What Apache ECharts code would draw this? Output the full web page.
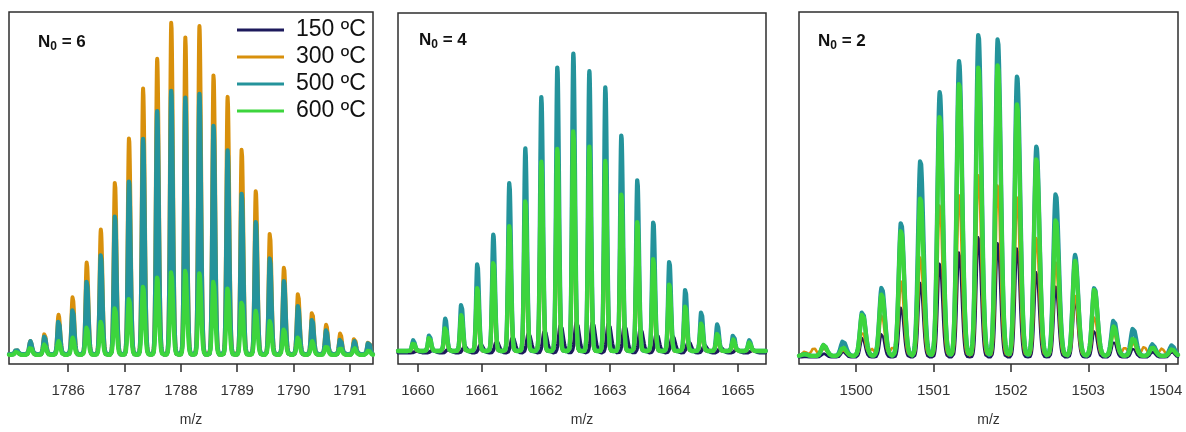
<!DOCTYPE html>
<html>
<head>
<meta charset="utf-8">
<title>Isotope envelopes vs. temperature</title>
<script src="https://cdn.jsdelivr.net/npm/echarts@6/dist/echarts.min.js"></script>
<style>
  html, body { margin: 0; padding: 0; background: #fff; }
  #chart { width: 1186px; height: 432px; }
</style>
</head>
<body>
<div id="chart"></div>
<script>
// ---- Legend / series names -------------------------------------------------
const seriesNames = ['150 ºC', '300 ºC', '500 ºC', '600 ºC'];

// ---- Panel 1: N0 = 6 ------------------------------------------------------
const p1Mz = [1785.08, 1785.33, 1785.58, 1785.83, 1786.08, 1786.33, 1786.58, 1786.83,
  1787.08, 1787.33, 1787.58, 1787.83, 1788.08, 1788.33, 1788.58, 1788.83, 1789.08,
  1789.33, 1789.58, 1789.83, 1790.08, 1790.33, 1790.58, 1790.83, 1791.08, 1791.33];
const p1T150 = [3.9, 6.0, 7.2, 11.5, 14.3, 21.7, 28.4, 38.1, 46.9, 57.7, 64.7, 70.1, 68.2,
  69.1, 61.1, 54.7, 43.9, 36.4, 27.4, 21.4, 15.2, 11.8, 8.9, 6.8, 5.9, 5.9];
const p1T300 = [4.2, 6.5, 8.6, 14.0, 19.1, 28.9, 38.2, 51.9, 64.3, 78.3, 86.7, 97.2, 92.8,
  96.0, 82.2, 75.9, 61.3, 49.2, 37.5, 27.5, 20.3, 15.1, 11.2, 8.8, 7.6, 6.7];
const p1T500 = [4.2, 6.5, 7.9, 12.6, 15.8, 24.0, 31.4, 42.2, 52.0, 64.0, 71.8, 77.8, 75.7,
  76.7, 67.8, 60.7, 48.7, 40.4, 30.4, 23.7, 16.8, 13.0, 9.8, 7.5, 6.5, 6.5];
const p1T600 = [3.5, 4.8, 5.6, 6.5, 7.5, 10.5, 12.1, 16.3, 18.8, 22.2, 24.7, 26.6, 26.8,
  25.9, 23.8, 21.7, 17.9, 15.1, 12.3, 10.0, 7.8, 6.5, 5.4, 4.7, 4.5, 3.9];
const p1Ticks = [1786, 1787, 1788, 1789, 1790, 1791];

// ---- Panel 2: N0 = 4 ------------------------------------------------------
const p2Mz = [1659.93, 1660.18, 1660.43, 1660.68, 1660.93, 1661.18, 1661.43, 1661.68,
  1661.93, 1662.18, 1662.43, 1662.68, 1662.93, 1663.18, 1663.43, 1663.68, 1663.93,
  1664.18, 1664.43, 1664.68, 1664.93, 1665.18];
const p2Mz150 = [1659.98, 1660.23, 1660.48, 1660.73, 1660.98, 1661.23, 1661.48, 1661.73,
  1661.98, 1662.23, 1662.48, 1662.73, 1662.98, 1663.23, 1663.48, 1663.73, 1663.98,
  1664.23, 1664.48, 1664.73, 1664.98, 1665.23];
const p2T150 = [3.7, 4.0, 4.4, 5.0, 5.6, 6.5, 7.7, 8.8, 9.6, 11.3, 12.1, 12.1, 11.8, 11.2,
  10.2, 8.8, 8.1, 6.5, 5.3, 4.7, 4.2, 4.0];
const p2T300 = [5.6, 7.2, 9.8, 12.9, 20.5, 27.6, 37.4, 44.5, 55.0, 58.6, 63.6, 59.0, 55.2,
  46.0, 38.6, 28.5, 21.6, 15.6, 11.0, 8.2, 6.5, 5.7];
const p2T500 = [6.8, 8.4, 13.0, 17.4, 28.8, 36.9, 51.8, 61.4, 76.1, 84.7, 88.4, 83.4, 78.9,
  65.3, 52.7, 40.8, 29.6, 21.6, 15.1, 11.4, 8.7, 6.8];
const p2T600 = [6.2, 7.9, 10.7, 14.0, 21.9, 29.3, 39.5, 46.8, 57.7, 61.4, 66.7, 61.9, 57.9,
  48.4, 40.7, 30.2, 23.0, 16.7, 11.8, 8.8, 7.0, 6.2];
const p2Ticks = [1660, 1661, 1662, 1663, 1664, 1665];

// ---- Panel 3: N0 = 2 ------------------------------------------------------
const p3Mz = [1499.33, 1499.58, 1499.83, 1500.08, 1500.33, 1500.58, 1500.83, 1501.08,
  1501.33, 1501.58, 1501.83, 1502.08, 1502.33, 1502.58, 1502.83, 1503.08, 1503.33,
  1503.58, 1503.83, 1504.08];
const p3T150 = [2.0, 3.0, 3.5, 7.4, 8.8, 16.3, 23.1, 28.9, 32.0, 36.3, 34.5, 33.5, 26.5,
  22.0, 18.6, 9.8, 6.5, 4.5, 3.5, 3.5];
const p3T300 = [3.5, 4.5, 4.0, 9.3, 14.0, 23.5, 30.7, 45.6, 48.4, 54.0, 51.0, 47.5, 36.3,
  28.9, 19.6, 13.5, 8.8, 6.0, 4.5, 4.0];
const p3T500 = [2.8, 5.4, 6.5, 15.1, 21.9, 40.5, 58.2, 77.3, 86.1, 94.0, 92.6, 81.9, 61.9,
  48.6, 31.0, 21.9, 12.6, 10.2, 5.6, 5.3];
const p3T600 = [2.8, 5.4, 4.7, 14.4, 20.0, 38.2, 47.5, 70.8, 80.1, 84.7, 85.2, 74.0, 58.8,
  41.2, 29.3, 21.4, 10.7, 7.4, 4.7, 4.2];
// small features between the main isotope peaks (300 ºC trace)
const p3MinorMz300 = [1499.45, 1500.20, 1500.47, 1503.47, 1503.72, 1503.95];
const p3Minor300 = [4.6, 4.3, 4.7, 4.7, 4.9, 4.4];
const p3Ticks = [1500, 1501, 1502, 1503, 1504];

// ---- Styling ----------------------------------------------------------------
const FONT = '"Liberation Sans", Arial, Helvetica, sans-serif';
const COLORS = ['#1d1a5c', '#d8900c', '#24939b', '#3dd53d'];

// Profile line built from a peak list: each isotope peak is a narrow,
// slightly right-skewed Gaussian line shape on top of a flat baseline.
function spectrum(mz, apex, base, sl, sr, xmin, xmax, extraMz, extraApex) {
  const centers = mz.slice();
  const heights = apex.slice();
  if (extraMz) { centers.push(...extraMz); heights.push(...extraApex); }
  const xs = [];
  const n = 1800;
  for (let i = 0; i <= n; i++) xs.push(xmin + (xmax - xmin) * i / n);
  xs.push(...centers);
  xs.sort((a, b) => a - b);
  return xs.map(x => {
    let y = base;
    for (let k = 0; k < centers.length; k++) {
      const d = x - centers[k];
      const u = d / (d < 0 ? sl : sr);
      if (Math.abs(u) > 8) continue;
      y += (heights[k] - base) * Math.exp(-0.5 * u * u);
    }
    return [x, y];
  });
}

const panels = [
  {
    grid: { left: 9, right: 1186 - 373, top: 12, bottom: 432 - 370 },
    xmin: 1784.95, xmax: 1791.41, ticks: p1Ticks, label: '6', labelX: 38, labelY: 42,
    widths: [3.5, 4, 4.3, 4.3],
    traces: [
      spectrum(p1Mz, p1T150, 2.6, 0.020, 0.026, 1784.95, 1791.41),
      spectrum(p1Mz, p1T300, 2.8, 0.022, 0.028, 1784.95, 1791.41),
      spectrum(p1Mz, p1T500, 2.8, 0.022, 0.028, 1784.95, 1791.41),
      spectrum(p1Mz, p1T600, 2.6, 0.024, 0.030, 1784.95, 1791.41)
    ]
  },
  {
    grid: { left: 398, right: 1186 - 766, top: 13, bottom: 432 - 372 },
    xmin: 1659.69, xmax: 1665.44, ticks: p2Ticks, label: '4', labelX: 419, labelY: 40,
    widths: [3.5, 4, 4.3, 4.3],
    traces: [
      spectrum(p2Mz150, p2T150, 3.2, 0.028, 0.040, 1659.69, 1665.44),
      spectrum(p2Mz, p2T300, 3.7, 0.020, 0.025, 1659.69, 1665.44),
      spectrum(p2Mz, p2T500, 3.7, 0.020, 0.025, 1659.69, 1665.44),
      spectrum(p2Mz, p2T600, 3.7, 0.021, 0.026, 1659.69, 1665.44)
    ]
  },
  {
    grid: { left: 799, right: 1186 - 1178, top: 12, bottom: 432 - 370 },
    xmin: 1499.26, xmax: 1504.16, ticks: p3Ticks, label: '2', labelX: 818, labelY: 41,
    widths: [2.5, 2.5, 4.3, 4.3],
    traces: [
      spectrum(p3Mz, p3T150, 1.9, 0.025, 0.032, 1499.26, 1504.16),
      spectrum(p3Mz, p3T300, 2.4, 0.027, 0.034, 1499.26, 1504.16, p3MinorMz300, p3Minor300),
      spectrum(p3Mz, p3T500, 2.3, 0.031, 0.039, 1499.26, 1504.16),
      spectrum(p3Mz, p3T600, 2.3, 0.031, 0.039, 1499.26, 1504.16)
    ]
  }
];

const option = {
  animation: false,
  backgroundColor: '#fff',
  textStyle: { fontFamily: FONT },
  grid: [], xAxis: [], yAxis: [], series: [],
  legend: {
    orient: 'vertical',
    left: 232, top: 13,
    data: seriesNames,
    selectedMode: false,
    icon: 'rect',
    itemWidth: 47, itemHeight: 3,
    itemGap: 3,
    textStyle: { fontSize: 23, color: '#111', fontFamily: FONT, padding: [0, 0, 0, 7], lineHeight: 24 }
  },
  graphic: []
};

panels.forEach((p, i) => {
  option.grid.push(Object.assign({
    show: true, borderColor: '#2e2e2e', borderWidth: 1.5, backgroundColor: 'transparent',
    containLabel: false
  }, p.grid));
  option.xAxis.push({
    type: 'value', gridIndex: i, min: p.xmin, max: p.xmax,
    name: 'm/z', nameLocation: 'middle', nameGap: 49,
    nameTextStyle: { fontSize: 14, color: '#333', fontFamily: FONT },
    axisLine: { show: false },
    axisTick: { show: true, inside: false, length: 8, customValues: p.ticks,
      lineStyle: { color: '#2e2e2e', width: 1.5 } },
    axisLabel: { show: true, customValues: p.ticks, margin: 19, fontSize: 15, color: '#333',
      fontFamily: FONT, formatter: v => String(Math.round(v)) },
    splitLine: { show: false }
  });
  option.yAxis.push({
    type: 'value', gridIndex: i, min: 0, max: 100,
    show: false, splitLine: { show: false }
  });
  p.traces.forEach((data, s) => {
    option.series.push({
      type: 'line', name: seriesNames[s], xAxisIndex: i, yAxisIndex: i,
      data: data, showSymbol: false, symbol: 'none', smooth: false,
      sampling: false, silent: true, z: 2 + s,
      color: COLORS[s],
      lineStyle: { color: COLORS[s], width: p.widths[s], join: 'round', cap: 'round' }
    });
  });
  option.graphic.push({
    type: 'text', left: p.labelX, top: p.labelY - 11, z: 100,
    style: {
      text: '{n|N}{s|0}{n| = ' + p.label + '}',
      rich: {
        n: { fontSize: 17, fontWeight: 'bold', fontFamily: FONT, fill: '#111', lineHeight: 22, verticalAlign: 'middle' },
        s: { fontSize: 12, fontWeight: 'bold', fontFamily: FONT, fill: '#111', lineHeight: 22, padding: [10, 0, 0, 0], verticalAlign: 'middle' }
      }
    }
  });
});

const chart = echarts.init(document.getElementById('chart'), null, { renderer: 'canvas' });
chart.setOption(option);
</script>
</body>
</html>
